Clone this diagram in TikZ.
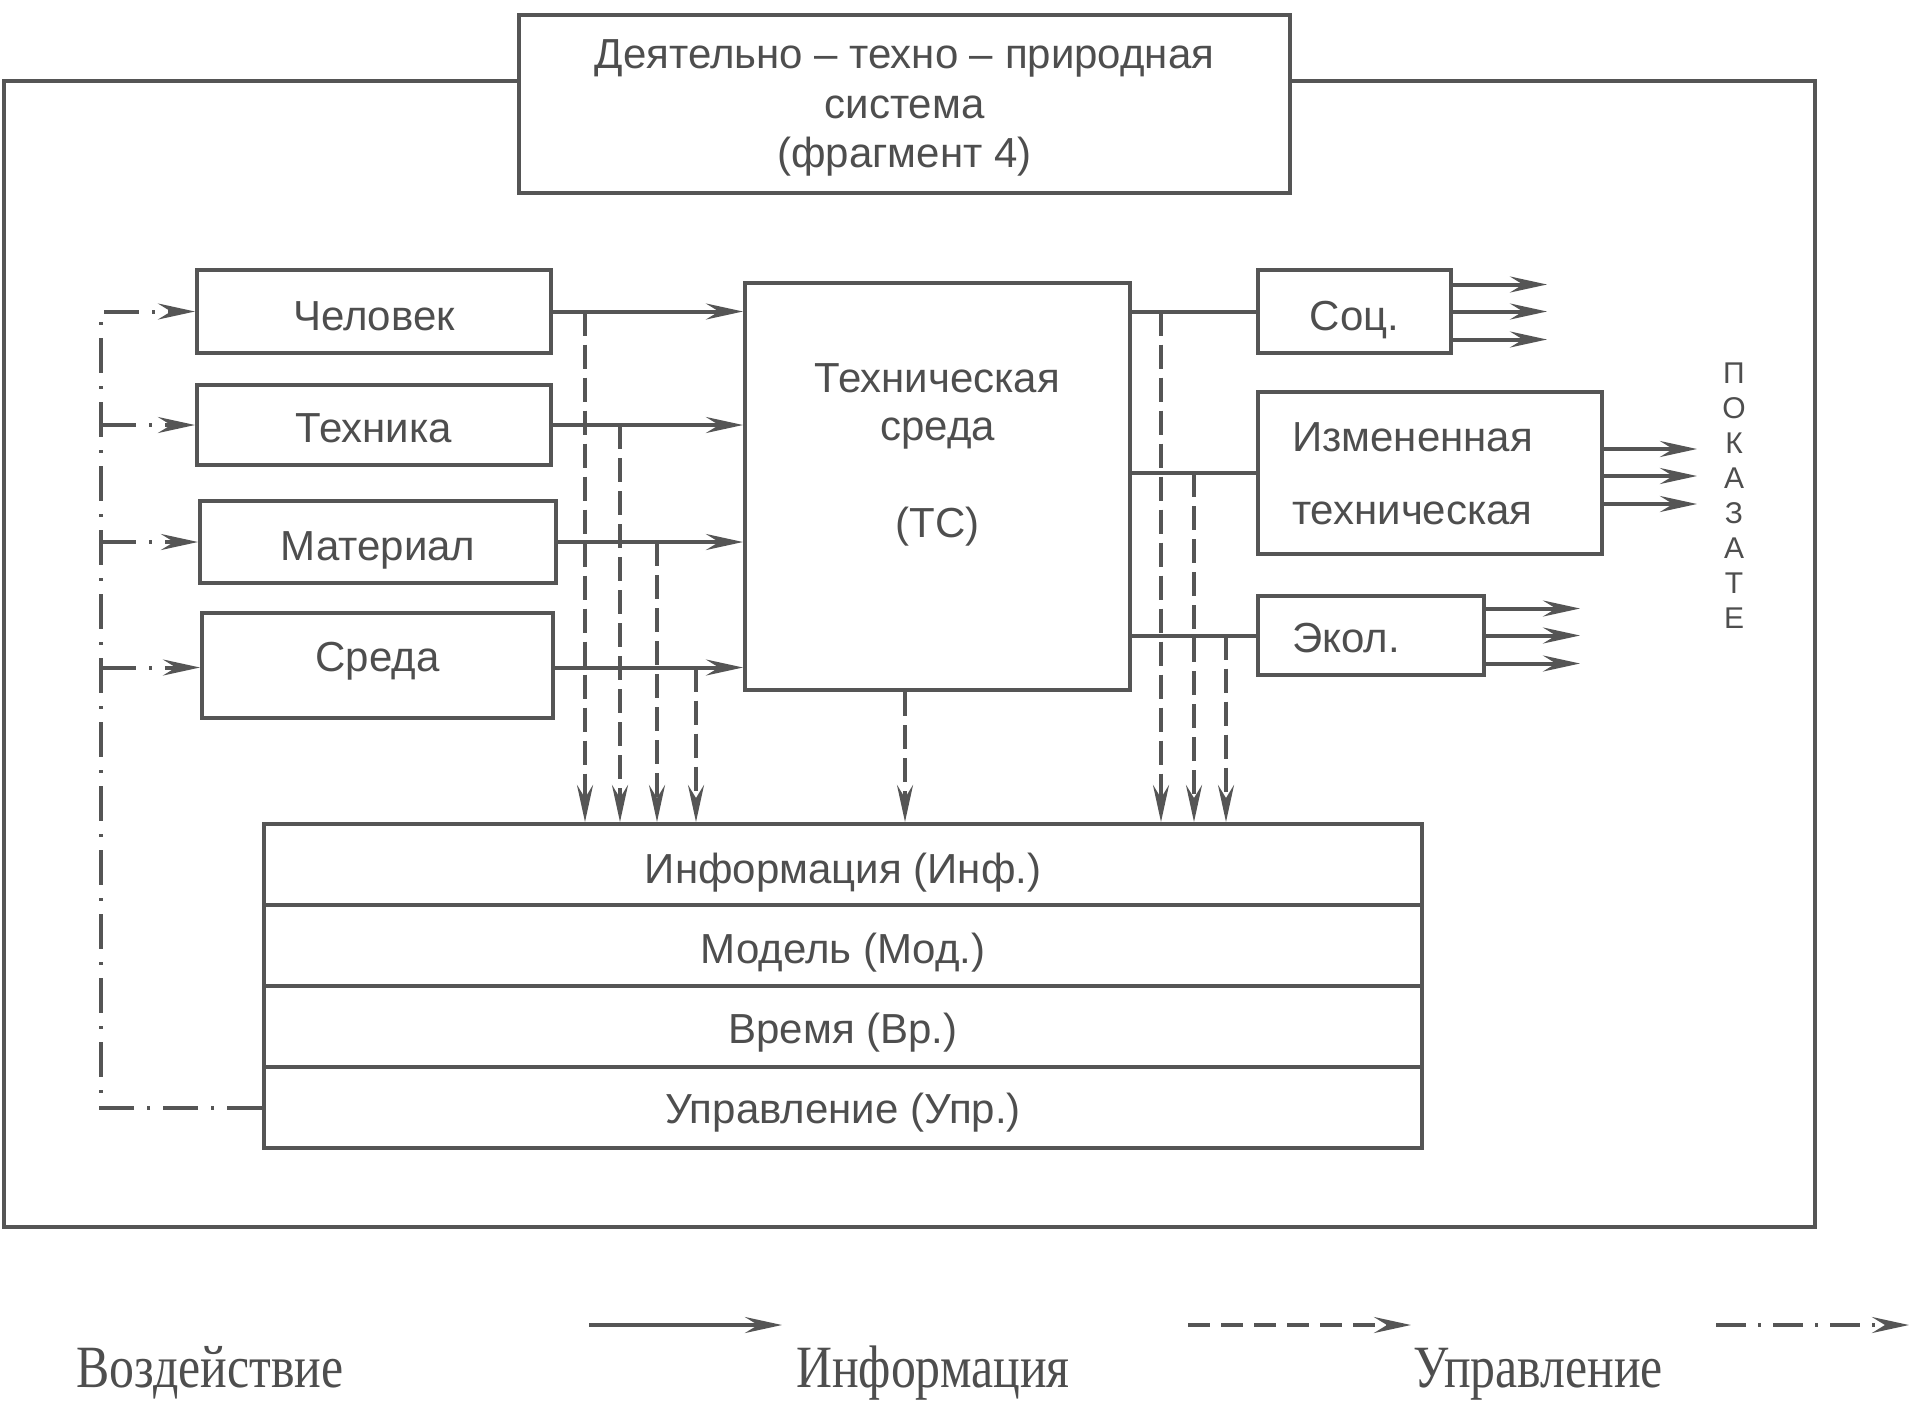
\documentclass[tikz,border=0pt]{standalone}
\usepackage{fontspec}
\usepackage{graphicx}
\setmainfont{Liberation Sans}
\newfontfamily\legfont{Liberation Serif}
\usetikzlibrary{arrows.meta}
\definecolor{ink}{RGB}{85,85,85}
\definecolor{txt}{RGB}{78,78,78}
\begin{document}
\begin{tikzpicture}[x=1pt,y=-1pt,
  every node/.style={text=txt},
  box/.style={draw=ink, line width=4pt, inner sep=0pt},
  lbl/.style={inner sep=0pt, anchor=base, font=\fontsize{42}{49}\selectfont},
  arr/.style={-{Stealth[length=37pt,width=16pt,inset=13pt]}},
  info/.style={draw=ink, line width=4pt, arr},
  ctrl/.style={draw=ink, line width=4pt, dash pattern=on 24pt off 9pt, arr},
  dd/.style={draw=ink, line width=4pt, dash pattern=on 35pt off 13pt on 3pt off 13pt},
]
\useasboundingbox (0,0) rectangle (1915,1401);
\fill[white] (0,0) rectangle (1915,1401);

% outer frame
\draw[ink, line width=3.5pt] (4,81) rectangle (1815,1227);
% title
\node[box, fill=white, minimum width=771, minimum height=178] (title) at (904.5,104) {};
\node[lbl] (t1) at (904.5,68) {Деятельно – техно – природная};
\node[lbl] (t2) at (904.5,118) {система};
\node[lbl] (t3) at (904.5,167) {(фрагмент 4)};

% left boxes
\node[box, minimum width=354, minimum height=83] (chel) at (374,311.5) {};
\node[box, minimum width=354, minimum height=80] (tech) at (374,425) {};
\node[box, minimum width=356, minimum height=82] (mat) at (378,542) {};
\node[box, minimum width=351, minimum height=105] (sreda) at (377.5,665.5) {};
\node[lbl] (chelt) at (374,330) {Человек};
\node[lbl] (techt) at (374,442) {Техника};
\node[lbl] (matt) at (378,560) {Материал};
\node[lbl] (sredat) at (377.5,671) {Среда};

% technical environment
\node[box, minimum width=385, minimum height=407] (ts) at (937.5,486.5) {};
\node[lbl] (ts1) at (937.5,392) {Техническая};
\node[lbl] (ts2) at (937.5,440) {среда};
\node[lbl] (ts3) at (937.5,537) {(ТС)};

% right boxes
\node[box, minimum width=193, minimum height=83] (soc) at (1354.5,311.5) {};
\node[lbl] (soct) at (1354.5,330) {Соц.};
\node[box, minimum width=344, minimum height=162] (izm) at (1430,473) {};
\node[lbl, anchor=base west] (izm1) at (1292,451) {Измененная};
\node[lbl, anchor=base west] (izm2) at (1292,524) {техническая};
\node[box, minimum width=226, minimum height=79] (eko) at (1371,635.5) {};
\node[lbl, anchor=base west] (ekot) at (1292,652) {Экол.};

% vertical letters
\foreach \ch [count=\i from 0] in {П,О,К,А,З,А,Т,Е}
  \node[inner sep=0pt, font=\fontsize{30}{30}\selectfont] (p\i) at (1734,373+\i*35) {\ch};

% bottom table
\node[box, minimum width=1158, minimum height=81] (inf) at (843,864.5) {};
\node[box, minimum width=1158, minimum height=81] (mod) at (843,945.5) {};
\node[box, minimum width=1158, minimum height=81] (vr) at (843,1026.5) {};
\node[box, minimum width=1158, minimum height=81] (upr) at (843,1107.5) {};
\node[lbl] (inft) at (843,883) {Информация (Инф.)};
\node[lbl] (modt) at (843,963) {Модель (Мод.)};
\node[lbl] (vrt) at (843,1043) {Время (Вр.)};
\node[lbl] (uprt) at (843,1123) {Управление (Упр.)};

% information arrows to TS
\draw[info] (chel.east) -- (chel.east -| ts.west);
\draw[info] (tech.east) -- (tech.east -| ts.west);
\draw[info] (mat.east) -- (mat.east -| ts.west);
\draw[info] ([yshift=-2]sreda.east) -- ([yshift=-2]sreda.east -| ts.west);

% TS to results
\draw[draw=ink, line width=4pt] (soc.west -| ts.east) -- (soc.west);
\draw[draw=ink, line width=4pt] (izm.west -| ts.east) -- (izm.west);
\draw[draw=ink, line width=4pt] (eko.west -| ts.east) -- (eko.west);

% output arrows
\foreach \dy in {-28,0,27} {
  \draw[info] ([yshift=\dy]soc.east) -- ++(94,0);
  \draw[info] ([yshift=\dy]eko.east) -- ++(94,0);
}
\foreach \dy in {-31,-3,24}
  \draw[info] ([yshift=\dy]izm.east) -- ++(93,0);

% control (dashed) arrows to information
\coordinate (c1) at (585,0);
\coordinate (c2) at (620,0);
\coordinate (c3) at (657,0);
\coordinate (c4) at (696,0);
\coordinate (c5) at (905,0);
\coordinate (c6) at (1161,0);
\coordinate (c7) at (1194,0);
\coordinate (c8) at (1226,0);
\draw[ctrl] (c1 |- chel.east) -- (c1 |- inf.north);
\draw[ctrl] (c2 |- tech.east) -- (c2 |- inf.north);
\draw[ctrl] (c3 |- mat.east) -- (c3 |- inf.north);
\draw[ctrl] ([yshift=-2]c4 |- sreda.east) -- (c4 |- inf.north);
\draw[ctrl] (c5 |- ts.south) -- (c5 |- inf.north);
\draw[ctrl] (c6 |- soc.west) -- (c6 |- inf.north);
\draw[ctrl] (c7 |- izm.west) -- (c7 |- inf.north);
\draw[ctrl] (c8 |- eko.west) -- (c8 |- inf.north);

% dash-dot feedback from control
\coordinate (cv) at (101,0);
\draw[dd, arr] (upr.west) -- (cv |- upr.west) -- (cv |- chel.west) -- (chel.west);
\draw[dd, arr] (cv |- tech.west) -- (tech.west);
\draw[dd, arr] (cv |- mat.west) -- (mat.west);
\draw[dd, arr] ([yshift=-2]cv |- sreda.west) -- ([yshift=-2]sreda.west);

% legend
\coordinate (la1) at (589,1325);
\coordinate (lb1) at (782,1325);
\coordinate (la2) at (1188,1325);
\coordinate (lb2) at (1411,1325);
\coordinate (la3) at (1716,1325);
\coordinate (lb3) at (1909,1325);
\draw[info] (la1) -- (lb1);
\draw[ctrl, dash pattern=on 22pt off 11pt] (la2) -- (lb2);
\draw[dd, arr, dash pattern=on 30pt off 12pt on 3pt off 12pt] (la3) -- (lb3);
\node[inner sep=0pt, anchor=base west] (l1) at (76,1387) {\legfont\fontsize{60}{60}\selectfont\scalebox{0.83}[1]{Воздействие}};
\node[inner sep=0pt, anchor=base west] (l2) at (796,1387) {\legfont\fontsize{60}{60}\selectfont\scalebox{0.83}[1]{Информация}};
\node[inner sep=0pt, anchor=base west] (l3) at (1413,1387) {\legfont\fontsize{60}{60}\selectfont\scalebox{0.83}[1]{Управление}};
\end{tikzpicture}
\end{document}
